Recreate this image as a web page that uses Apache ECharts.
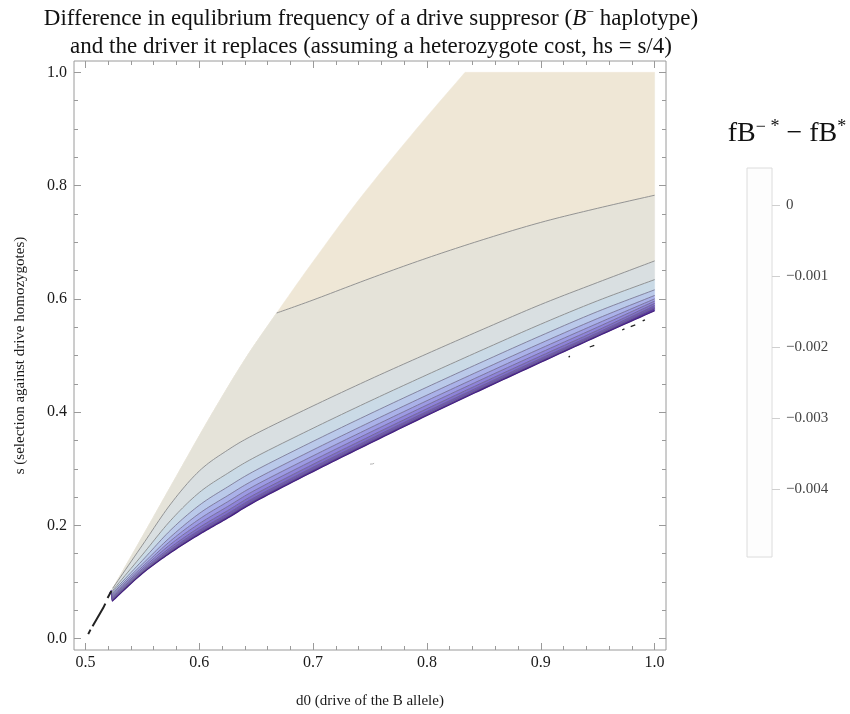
<!DOCTYPE html>
<html><head><meta charset="utf-8">
<script src="https://cdn.jsdelivr.net/npm/echarts@6/dist/echarts.min.js"></script>
<style>html,body{margin:0;padding:0;background:#fff}#c{width:850px;height:714px}</style>
</head><body><div id="c"></div>
<script>
// ---- data ----
const d0Ticks = [0.5, 0.6, 0.7, 0.8, 0.9, 1.0];
const d0Minor = [0.5,0.52,0.54,0.56,0.58,0.6,0.62,0.64,0.66,0.68,0.7,0.72,0.74,0.76,0.78,0.8,0.82,0.84,0.86,0.88,0.9,0.92,0.94,0.96,0.98,1.0];
const sTicks = [0, 0.2, 0.4, 0.6, 0.8, 1.0];
const sMinor = [0,0.05,0.1,0.15,0.2,0.25,0.3,0.35,0.4,0.45,0.5,0.55,0.6,0.65,0.7,0.75,0.8,0.85,0.9,0.95,1.0];
const legendTicks = [0, -0.001, -0.002, -0.003, -0.004];

// upper-left edge of the region where the difference is defined
const U = [[0.5215,0.080],[0.5494,0.178],[0.580,0.287],[0.610,0.393],[0.6402,0.4933],[0.668,0.575],[0.700,0.666],[0.7412,0.7775],[0.790,0.898],[0.8335,1.0]];
const TOP = [[0.8335,1.0],[1.0,1.0]];
// contour lines, top (≈0) to bottom (most negative)
const C1 = [[0.668,0.575],[0.70,0.598],[0.75,0.636],[0.80,0.672],[0.85,0.705],[0.90,0.735],[0.95,0.760],[1.0,0.783]];
const C2 = [[0.524,0.089],[0.55,0.165],[0.575,0.238],[0.60,0.296],[0.625,0.333],[0.65,0.362],[0.70,0.411],[0.75,0.458],[0.80,0.503],[0.85,0.547],[0.90,0.590],[0.95,0.629],[1.0,0.667]];
const C3 = [[0.5226,0.082],[0.55,0.148],[0.575,0.209],[0.60,0.258],[0.625,0.292],[0.65,0.3215],[0.70,0.3716],[0.75,0.4196],[0.80,0.4659],[0.85,0.5111],[0.90,0.5553],[0.95,0.5967],[1.0,0.634]];
const C4 = [[0.5227,0.080],[0.55,0.138],[0.575,0.192],[0.60,0.2355],[0.625,0.268],[0.65,0.2977],[0.70,0.3484],[0.75,0.397],[0.80,0.4441],[0.85,0.490],[0.90,0.5349],[0.95,0.5777],[1.0,0.616]];
const C5 = [[0.5228,0.078],[0.55,0.1315],[0.575,0.180],[0.60,0.221],[0.625,0.2526],[0.65,0.2823],[0.70,0.3333],[0.75,0.3823],[0.80,0.430],[0.85,0.4763],[0.90,0.5217],[0.95,0.5654],[1.0,0.606]];
const C6 = [[0.5229,0.076],[0.55,0.127],[0.575,0.173],[0.60,0.211],[0.625,0.2418],[0.65,0.2716],[0.70,0.3228],[0.75,0.3721],[0.80,0.4202],[0.85,0.4668],[0.90,0.5125],[0.95,0.5568],[1.0,0.600]];
const C7 = [[0.5230,0.074],[0.55,0.1235],[0.575,0.167],[0.60,0.203],[0.625,0.2334],[0.65,0.2632],[0.70,0.3147],[0.75,0.3642],[0.80,0.4125],[0.85,0.4594],[0.90,0.5053],[0.95,0.5502],[1.0,0.596]];
const C8 = [[0.5231,0.072],[0.55,0.1205],[0.575,0.1615],[0.60,0.1963],[0.625,0.2262],[0.65,0.2561],[0.70,0.3078],[0.75,0.3574],[0.80,0.406],[0.85,0.4531],[0.90,0.4992],[0.95,0.5445],[1.0,0.592]];
const C9 = [[0.5232,0.070],[0.55,0.118],[0.575,0.1576],[0.60,0.1913],[0.625,0.2208],[0.65,0.2507],[0.70,0.3025],[0.75,0.3523],[0.80,0.4011],[0.85,0.4484],[0.90,0.4946],[0.95,0.5402],[1.0,0.588]];
const C10 = [[0.5233,0.068],[0.55,0.1165],[0.575,0.1546],[0.60,0.1874],[0.625,0.2166],[0.65,0.2466],[0.70,0.2985],[0.75,0.3484],[0.80,0.3973],[0.85,0.4447],[0.90,0.4911],[0.95,0.5369],[1.0,0.584]];
// lower edge of the defined region
const L = [[0.5235,0.066],[0.55,0.115],[0.575,0.152],[0.60,0.184],[0.625,0.213],[0.65,0.243],[0.70,0.295],[0.75,0.345],[0.80,0.394],[0.85,0.4415],[0.90,0.488],[0.95,0.534],[1.0,0.579]];
// small artefacts
const shard = [[0.5025,0.008],[0.5045,0.016],null,[0.5063,0.022],[0.5156,0.054],[0.5175,0.062],null,[0.5195,0.072],[0.5228,0.084]];
const dashes = [[0.9245,0.497],[0.9255,0.499],null,[0.943,0.515],[0.947,0.518],null,[0.9715,0.545],[0.9735,0.547],null,[0.979,0.551],[0.983,0.554],null,[0.9895,0.561],[0.9915,0.563]];
const squiggle = [[0.7500,0.3082],[0.7512,0.3094],[0.7524,0.3086],[0.7536,0.3096]];

const contours = [C1,C2,C3,C4,C5,C6,C7,C8,C9,C10];
const bandColors = ['#EFE7D6','#E5E3D9','#D9DFE1','#CADAE6','#BAC9EA','#AAB1E9','#9C9AE3','#8E83D9','#7F6DCB','#6F56BA','#5A3AA0'];

// ---- drawing helpers (smooth curve through the read points, in pixel space) ----
const serif = 'Liberation Serif';
function smoothPx(pts){
  const n = pts.length, out = [pts[0]];
  for (let i = 0; i < n - 1; i++) {
    const p0 = pts[Math.max(i-1,0)], p1 = pts[i], p2 = pts[i+1], p3 = pts[Math.min(i+2,n-1)];
    const c1 = [p1[0] + (p2[0]-p0[0])/6, p1[1] + (p2[1]-p0[1])/6];
    const c2 = [p2[0] - (p3[0]-p1[0])/6, p2[1] - (p3[1]-p1[1])/6];
    for (let k = 1; k <= 12; k++) {
      const t = k/12, u = 1-t;
      out.push([u*u*u*p1[0] + 3*u*u*t*c1[0] + 3*u*t*t*c2[0] + t*t*t*p2[0],
                u*u*u*p1[1] + 3*u*u*t*c1[1] + 3*u*t*t*c2[1] + t*t*t*p2[1]]);
    }
  }
  return out;
}
function toPx(api, arr){ return arr.map(p => api.coord(p)); }
function edgesPx(api){
  const Upx = smoothPx(toPx(api, U));
  const ext = c => { const cp = smoothPx(toPx(api, c)); const x0 = cp[0][0]; return Upx.filter(p => p[0] < x0 - 0.01).concat(cp); };
  const e = [Upx.concat(toPx(api, TOP))];
  contours.forEach(c => e.push(ext(c)));
  e.push(ext(L));
  return e;
}
const bandIdx = bandColors.map((c,i)=>[i]);
const lineIdx = contours.map((c,i)=>[i]);

const series = [
  {type:'custom', xAxisIndex:0, yAxisIndex:0, data:bandIdx, silent:true, animation:false, z:2,
   renderItem:function(params, api){
     const k = api.value(0);
     const e = edgesPx(api);
     const pts = e[k].concat(e[k+1].slice().reverse());
     return {type:'polygon', shape:{points:pts}, style:{fill:bandColors[k], stroke:bandColors[k], lineWidth:0.5}};
   }},
  {type:'custom', xAxisIndex:0, yAxisIndex:0, data:lineIdx, silent:true, animation:false, z:3,
   renderItem:function(params, api){
     const k = api.value(0);
     const pts = smoothPx(toPx(api, contours[k]));
     return {type:'polyline', shape:{points:pts}, style:{fill:null, stroke: k<3 ? '#8a8a8a' : '#6b6680', lineWidth:0.9, opacity: k<3 ? 1 : 0.8}};
   }},
  {type:'custom', xAxisIndex:0, yAxisIndex:0, data:[[0]], silent:true, animation:false, z:3,
   renderItem:function(params, api){
     return {type:'polyline', shape:{points:smoothPx(toPx(api, L))}, style:{fill:null, stroke:'#44227e', lineWidth:1.2}};
   }},
  {type:'line', data:shard, symbol:'none', connectNulls:false, lineStyle:{color:'#222', width:2}, silent:true, animation:false, z:4},
  {type:'line', data:dashes, symbol:'none', connectNulls:false, lineStyle:{color:'#222', width:1.3}, silent:true, animation:false, z:4},
  {type:'line', data:squiggle, symbol:'none', lineStyle:{color:'#aaa', width:0.9}, silent:true, animation:false, z:4}
];

const axisCol = '#9a9a9a';
function tickAxis(kind, pos, vals, len, labels, extra){
  return Object.assign({gridIndex:0, type:'value', position:pos, z:10,
    min: kind==='x'?0.49:-0.02, max: kind==='x'?1.01:1.02,
    axisLine:{show:false, onZero:false}, splitLine:{show:false},
    axisTick:{show:true, inside:true, length:len, customValues:vals, lineStyle:{color:axisCol, width:1}},
    axisLabel:labels ? {show:true, customValues:vals, formatter:v=>Number(v).toFixed(1), fontFamily:serif, fontSize:16, color:'#1a1a1a', margin:kind==='x'?5:7}
                     : {show:false}}, extra||{});
}
const option = {
  backgroundColor:'#ffffff',
  animation:false,
  title:[
    {text:'Difference in equlibrium frequency of a drive suppresor ({i|B}{sup|−} haplotype)\nand the driver it replaces (assuming a heterozygote cost, hs = s/4)',
     left:366, top:0, textAlign:'center',
     textStyle:{fontFamily:serif, fontSize:23, fontWeight:'normal', color:'#111', lineHeight:28,
       rich:{i:{fontFamily:serif, fontSize:23, fontStyle:'italic', color:'#111', lineHeight:28},
             sup:{fontFamily:serif, fontSize:14, color:'#111', lineHeight:14, verticalAlign:'top'}}}},
    {text:'fB{sup|− *} − fB{sup|*}', left:782, top:113, textAlign:'center',
     textStyle:{fontFamily:serif, fontSize:28, fontWeight:'normal', color:'#111', lineHeight:31,
       rich:{sup:{fontFamily:serif, fontSize:18, color:'#111', lineHeight:17, verticalAlign:'top'}}}}
  ],
  grid:[
    {left:74, top:61, width:592, height:591, show:true, borderColor:axisCol, borderWidth:1, backgroundColor:'transparent'},
    {left:747, top:168, width:25, height:389, show:true, borderColor:'#dcdcdc', borderWidth:1, backgroundColor:'#fdfdfd'}
  ],
  xAxis:[
    tickAxis('x','bottom',d0Ticks,7,true,{name:'d0 (drive of the B allele)', nameLocation:'middle', nameGap:44,
      nameTextStyle:{fontFamily:serif, fontSize:15, color:'#1a1a1a'}}),
    tickAxis('x','bottom',d0Minor,4,false),
    tickAxis('x','top',d0Ticks,7,false),
    tickAxis('x','top',d0Minor,4,false),
    {gridIndex:1, type:'value', show:false, min:0, max:1}
  ],
  yAxis:[
    tickAxis('y','left',sTicks,7,true,{name:'s (selection against drive homozygotes)', nameLocation:'middle', nameGap:46, nameRotate:90,
      nameTextStyle:{fontFamily:serif, fontSize:15, color:'#1a1a1a'}}),
    tickAxis('y','left',sMinor,4,false),
    tickAxis('y','right',sTicks,7,false),
    tickAxis('y','right',sMinor,4,false),
    {gridIndex:1, type:'value', position:'right', min:-0.00495, max:0.00052,
     axisLine:{show:false, onZero:false}, splitLine:{show:false},
     axisTick:{show:true, inside:false, length:8, customValues:legendTicks, lineStyle:{color:'#cfcfcf'}},
     axisLabel:{show:true, customValues:legendTicks, margin:14, fontFamily:serif, fontSize:15, color:'#444',
       formatter:v=> Number(v)===0 ? '0' : '−' + Math.abs(Number(v)).toFixed(3)}}
  ],
  series:series
};
const chart = echarts.init(document.getElementById('c'), null, {renderer:'canvas'});
chart.setOption(option);
</script></body></html>
